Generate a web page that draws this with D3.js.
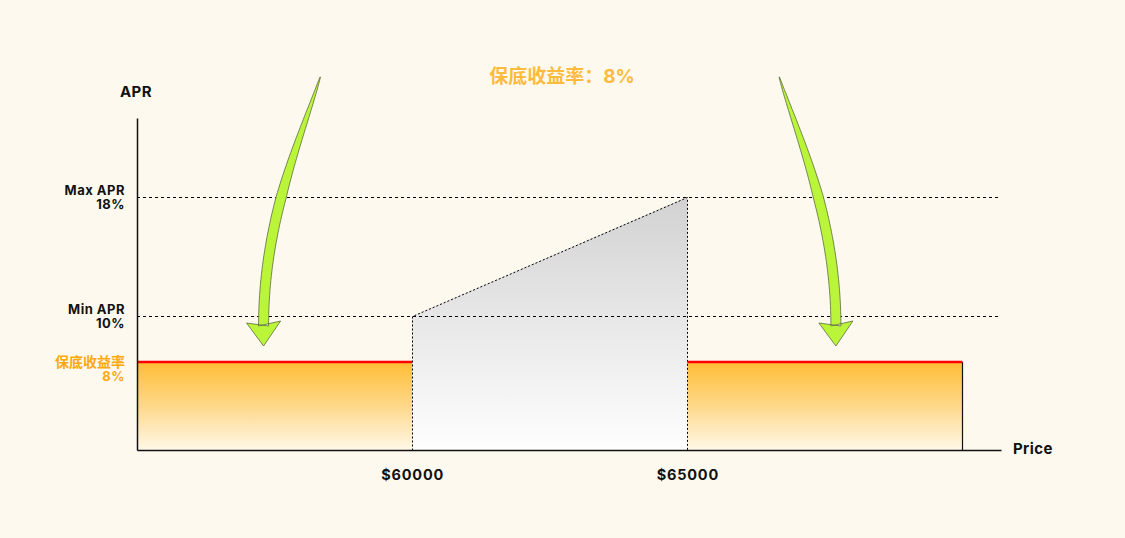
<!DOCTYPE html>
<html>
<head>
<meta charset="utf-8">
<script src="https://cdn.jsdelivr.net/npm/d3@7"></script>
<style>
  html, body { margin: 0; padding: 0; background: #fdf9ee; }
  svg { display: block; }
  text { font-family: Inter, "Noto Sans CJK SC", sans-serif; font-weight: 700; }
</style>
</head>
<body>
<script>
// ---------- data ----------
const titleText = "保底收益率：8%";
const guaranteedApr = 8;         // 保底收益率
const minApr = 10;               // Min APR
const maxApr = 18;               // Max APR
const rangeLow = 60000;          // lower price of range
const rangeHigh = 65000;         // upper price of range
const priceStart = 55000;        // left edge of the chart
const priceEnd = 70000;          // right edge of guaranteed zone
const xTickValues = [60000, 65000];
const xTickLabels = ["$60000", "$65000"];
const yLabelTop = ["Max APR", "Min APR", "保底收益率"];
const yLabelBottom = ["18%", "10%", "8%"];
const yLabelValues = [18, 10, 8];
// segments: guaranteed zones (outside range) and the in-range ramp
const guaranteedZones = [[priceStart, rangeLow], [rangeHigh, priceEnd]];
const rampPoints = [{ p: rangeLow, apr: minApr }, { p: rangeHigh, apr: maxApr }];
// arrows: tail price -> tip price (annotation)
const arrowTailPrices = [58330, 66670];
const arrowTipPrices = [57300, 67700];

// ---------- layout ----------
const W = 1125, H = 538;
const svg = d3.select("body").append("svg").attr("width", W).attr("height", H);

const x = d3.scaleLinear().domain([priceStart, 70700]).range([137, 1001]);
// schematic (piecewise) APR scale
const y = d3.scaleLinear().domain([0, 8, 10, 18, 23.3]).range([450, 362, 316, 197, 118]);

const defs = svg.append("defs");
const og = defs.append("linearGradient").attr("id", "orangeGrad")
  .attr("gradientUnits", "userSpaceOnUse")
  .attr("x1", 0).attr("x2", 0).attr("y1", y(guaranteedApr)).attr("y2", y(0));
og.append("stop").attr("offset", "0%").attr("stop-color", "#ffbd36");
og.append("stop").attr("offset", "50%").attr("stop-color", "#fed88a");
og.append("stop").attr("offset", "100%").attr("stop-color", "#fff8e8");

const gg = defs.append("linearGradient").attr("id", "grayGrad")
  .attr("gradientUnits", "userSpaceOnUse")
  .attr("x1", 0).attr("x2", 0).attr("y1", y(maxApr)).attr("y2", y(0));
gg.append("stop").attr("offset", "0%").attr("stop-color", "#d2d2d2");
gg.append("stop").attr("offset", "100%").attr("stop-color", "#fefefe");

// orange guaranteed zones
svg.selectAll("rect.zone").data(guaranteedZones).enter().append("rect")
  .attr("class", "zone")
  .attr("x", d => x(d[0])).attr("width", d => x(d[1]) - x(d[0]))
  .attr("y", y(guaranteedApr)).attr("height", y(0) - y(guaranteedApr))
  .attr("fill", "url(#orangeGrad)");

// gray ramp area
const area = d3.area().x(d => x(d.p)).y0(y(0)).y1(d => y(d.apr));
svg.append("path").datum(rampPoints).attr("d", area).attr("fill", "url(#grayGrad)");

// dashed reference lines
svg.selectAll("line.ref").data([maxApr, minApr]).enter().append("line")
  .attr("class", "ref")
  .attr("x1", x(priceStart)).attr("x2", x.range()[1])
  .attr("y1", d => Math.round(y(d)) + 0.5).attr("y2", d => Math.round(y(d)) + 0.5)
  .attr("stroke", "#000").attr("stroke-width", 1).attr("stroke-dasharray", "3,3");

// dotted outline of ramp
const outline = [{ p: rangeLow, apr: 0 }, ...rampPoints, { p: rangeHigh, apr: 0 }];
svg.append("path").datum(outline)
  .attr("d", d3.line().x(d => Math.round(x(d.p)) + 0.5).y(d => Math.round(y(d.apr)) + 0.5))
  .attr("fill", "none").attr("stroke", "#000").attr("stroke-width", 1)
  .attr("stroke-dasharray", "2,2");

// right edge of last zone
svg.append("line")
  .attr("x1", Math.round(x(priceEnd)) + 0.5).attr("x2", Math.round(x(priceEnd)) + 0.5)
  .attr("y1", y(guaranteedApr)).attr("y2", y(0))
  .attr("stroke", "#111").attr("stroke-width", 1.2);

// red guaranteed lines
svg.selectAll("line.red").data(guaranteedZones).enter().append("line")
  .attr("class", "red")
  .attr("x1", d => x(d[0])).attr("x2", d => x(d[1]))
  .attr("y1", y(guaranteedApr)).attr("y2", y(guaranteedApr))
  .attr("stroke", "#ff0000").attr("stroke-width", 2.5);

// axes
const xAxis = d3.axisBottom(x).tickValues(xTickValues).tickSize(0).tickSizeOuter(0)
  .tickPadding(20).tickFormat((d, i) => xTickLabels[i]);
const gx = svg.append("g").attr("transform", `translate(0,${y(0)})`).call(xAxis);
gx.select(".domain").attr("stroke", "#111").attr("stroke-width", 1.5);
gx.selectAll("text").attr("font-size", 14.5).attr("fill", "#111")
  .attr("letter-spacing", 0.8)
  .attr("font-family", "Inter, sans-serif").attr("font-weight", 700);

const yAxis = d3.axisLeft(y).tickValues([]).tickSizeOuter(0);
const gy = svg.append("g").attr("transform", `translate(${x(priceStart)},0)`).call(yAxis);
gy.select(".domain").attr("stroke", "#111").attr("stroke-width", 1.5);

// axis titles
svg.append("text").attr("x", 136).attr("y", 97).attr("text-anchor", "middle")
  .attr("font-size", 15).attr("letter-spacing", 0.4).attr("fill", "#111").text("APR");
svg.append("text").attr("x", 1013).attr("y", 454).attr("text-anchor", "start")
  .attr("font-size", 15).attr("letter-spacing", 0.4).attr("fill", "#111").text("Price");

// y labels
yLabelValues.forEach((v, i) => {
  const isG = v === guaranteedApr;
  const col = isG ? "#ffa90a" : "#111";
  const yy = y(v);
  svg.append("text").attr("x", 125).attr("y", yy + (isG ? 5 : -2))
    .attr("text-anchor", "end").attr("font-size", isG ? 14 : 13).attr("fill", col)
    .attr("letter-spacing", isG ? 0 : 0.5)
    .attr("font-family", isG ? "'Noto Sans CJK SC', sans-serif" : "Inter, sans-serif")
    .text(yLabelTop[i]);
  svg.append("text").attr("x", 125).attr("y", yy + (isG ? 19 : 12))
    .attr("text-anchor", "end").attr("font-size", 13).attr("fill", col)
    .attr("letter-spacing", 0.5)
    .text(yLabelBottom[i]);
});

// title
svg.append("text").attr("x", 562).attr("y", 83).attr("text-anchor", "middle")
  .attr("font-size", 19).attr("fill", "#ffbb3e")
  .attr("font-family", "'Noto Sans CJK SC', sans-serif")
  .text(titleText);

// curved arrows
function arrowPath(tailX, tipX) {
  const dir = Math.sign(tipX - tailX);
  const tailY = 77, baseY = 326, tipY = 346;
  const P0 = [tailX, tailY], P1 = [tailX + dir * 20, 140], P2 = [tipX, 220], P3 = [tipX, baseY];
  const N = 60, L = [], R = [];
  for (let k = 0; k <= N; k++) {
    const t = k / N, u = 1 - t;
    const px = u*u*u*P0[0] + 3*u*u*t*P1[0] + 3*u*t*t*P2[0] + t*t*t*P3[0];
    const py = u*u*u*P0[1] + 3*u*u*t*P1[1] + 3*u*t*t*P2[1] + t*t*t*P3[1];
    const dx = 3*u*u*(P1[0]-P0[0]) + 6*u*t*(P2[0]-P1[0]) + 3*t*t*(P3[0]-P2[0]);
    const dy = 3*u*u*(P1[1]-P0[1]) + 6*u*t*(P2[1]-P1[1]) + 3*t*t*(P3[1]-P2[1]);
    const len = Math.hypot(dx, dy) || 1;
    const nx = -dy / len, ny = dx / len;
    const hw = 4.8 * Math.min(1, Math.pow(t / 0.55, 0.85)) + 0.2;
    L.push([px + nx * hw, py + ny * hw]);
    R.push([px - nx * hw, py - ny * hw]);
  }
  const pts = [...L, [tipX + 17, baseY - 5], [tipX, tipY], [tipX - 17, baseY - 3], ...R.reverse()];
  return "M" + pts.map(p => p[0].toFixed(2) + "," + p[1].toFixed(2)).join("L") + "Z";
}
arrowTailPrices.forEach((tp, i) => {
  svg.append("path").attr("d", arrowPath(x(tp), x(arrowTipPrices[i])))
    .attr("fill", "#bbf53a").attr("stroke", "#5d6b3c").attr("stroke-width", 0.8)
    .attr("stroke-linejoin", "miter");
});
</script>
</body>
</html>
